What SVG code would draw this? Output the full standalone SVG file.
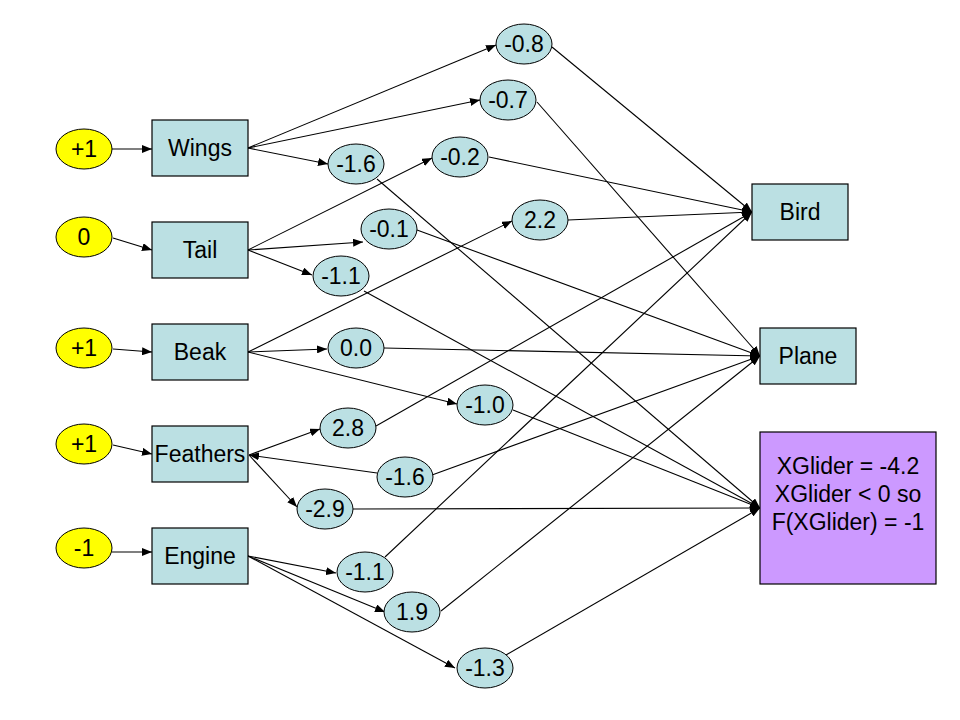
<svg xmlns="http://www.w3.org/2000/svg" width="960" height="720" viewBox="0 0 960 720">
<defs>
<style>
.in{fill:#FFFF00;stroke:#000;stroke-width:1}
.w{fill:#BBE0E3;stroke:#000;stroke-width:1}
.box{fill:#BBE0E3;stroke:#000;stroke-width:1.2}
.pur{fill:#CC99FF;stroke:#000;stroke-width:1.2}
text{font-family:"Liberation Sans",Arial,sans-serif;font-size:23px;fill:#000;text-anchor:middle}
.c line{stroke:#000;stroke-width:1.1;fill:none}
.a{marker-end:url(#ah)}
</style>
<marker id="ah" markerUnits="userSpaceOnUse" markerWidth="10" markerHeight="8" refX="10" refY="4" orient="auto">
<path d="M0,0 L10,4 L0,8 z" fill="#000"/>
</marker>
</defs>
<rect width="960" height="720" fill="#fff"/>
<g id="connectors" class="c">
<line class="a" x1="112" y1="149" x2="152" y2="149"/>
<line class="a" x1="113" y1="238" x2="152" y2="250"/>
<line class="a" x1="113" y1="349" x2="152" y2="352"/>
<line class="a" x1="113" y1="445" x2="152" y2="454"/>
<line class="a" x1="112" y1="552" x2="152" y2="552"/>
<line class="a" x1="248" y1="148" x2="496" y2="45"/>
<line class="a" x1="248" y1="148" x2="480" y2="100"/>
<line class="a" x1="248" y1="148" x2="328" y2="164"/>
<line class="a" x1="248" y1="250" x2="432" y2="158"/>
<line class="a" x1="248" y1="250" x2="363" y2="242"/>
<line class="a" x1="248" y1="250" x2="312" y2="275"/>
<line class="a" x1="248" y1="352" x2="512" y2="221"/>
<line class="a" x1="248" y1="352" x2="327" y2="349"/>
<line class="a" x1="248" y1="352" x2="457" y2="404"/>
<line class="a" x1="249" y1="455" x2="320" y2="429"/>
<line class="a" x1="249" y1="455" x2="297" y2="507"/>
<line class="a" x1="377" y1="473" x2="249" y2="455"/>
<line class="a" x1="248" y1="556" x2="336" y2="573"/>
<line class="a" x1="248" y1="556" x2="385" y2="612"/>
<line class="a" x1="248" y1="556" x2="455" y2="668"/>
<line class="a" x1="552" y1="47" x2="752" y2="212"/>
<line class="a" x1="489" y1="157" x2="752" y2="212"/>
<line class="a" x1="568" y1="220" x2="752" y2="212"/>
<line class="a" x1="376" y1="426" x2="752" y2="212"/>
<line class="a" x1="385" y1="557" x2="752" y2="212"/>
<line class="a" x1="537" y1="102" x2="760" y2="356"/>
<line class="a" x1="417" y1="230" x2="760" y2="356"/>
<line class="a" x1="384" y1="348" x2="760" y2="356"/>
<line class="a" x1="432" y1="475" x2="760" y2="356"/>
<line class="a" x1="441" y1="611" x2="760" y2="356"/>
<line class="a" x1="377" y1="179" x2="760" y2="508"/>
<line class="a" x1="364" y1="291" x2="760" y2="508"/>
<line class="a" x1="513" y1="410" x2="760" y2="508"/>
<line class="a" x1="353" y1="509" x2="760" y2="508"/>
<line class="a" x1="506" y1="655" x2="760" y2="508"/>
</g>
<g id="in-wings"><ellipse class="in" cx="84" cy="149" rx="28" ry="20"/><text x="84" y="157">+1</text></g>
<g id="in-tail"><ellipse class="in" cx="84" cy="237" rx="28" ry="20"/><text x="84" y="245">0</text></g>
<g id="in-beak"><ellipse class="in" cx="84" cy="348" rx="28" ry="20"/><text x="84" y="356">+1</text></g>
<g id="in-feathers"><ellipse class="in" cx="84" cy="444" rx="28" ry="20"/><text x="84" y="452">+1</text></g>
<g id="in-engine"><ellipse class="in" cx="84" cy="548" rx="28" ry="20"/><text x="84" y="556">-1</text></g>
<g id="wings"><rect class="box" x="152" y="120" width="96" height="56"/><text x="200" y="156">Wings</text></g>
<g id="tail"><rect class="box" x="152" y="222" width="96" height="56"/><text x="200" y="258">Tail</text></g>
<g id="beak"><rect class="box" x="152" y="324" width="96" height="56"/><text x="200" y="360">Beak</text></g>
<g id="feathers"><rect class="box" x="152" y="426" width="96" height="56"/><text x="200" y="462">Feathers</text></g>
<g id="engine"><rect class="box" x="152" y="528" width="96" height="56"/><text x="200" y="564">Engine</text></g>
<g id="w-wings-bird"><ellipse class="w" cx="524" cy="44" rx="28" ry="20"/><text x="524" y="52">-0.8</text></g>
<g id="w-wings-plane"><ellipse class="w" cx="508" cy="100" rx="28" ry="20"/><text x="508" y="108">-0.7</text></g>
<g id="w-wings-glider"><ellipse class="w" cx="356" cy="164" rx="28" ry="20"/><text x="356" y="172">-1.6</text></g>
<g id="w-tail-bird"><ellipse class="w" cx="460" cy="157" rx="28" ry="20"/><text x="460" y="165">-0.2</text></g>
<g id="w-tail-plane"><ellipse class="w" cx="389" cy="229" rx="28" ry="20"/><text x="389" y="237">-0.1</text></g>
<g id="w-tail-glider"><ellipse class="w" cx="341" cy="276" rx="28" ry="20"/><text x="341" y="284">-1.1</text></g>
<g id="w-beak-bird"><ellipse class="w" cx="540" cy="220" rx="28" ry="20"/><text x="540" y="228">2.2</text></g>
<g id="w-beak-plane"><ellipse class="w" cx="356" cy="348" rx="28" ry="20"/><text x="356" y="356">0.0</text></g>
<g id="w-beak-glider"><ellipse class="w" cx="485" cy="405" rx="28" ry="20"/><text x="485" y="413">-1.0</text></g>
<g id="w-feathers-bird"><ellipse class="w" cx="348" cy="428" rx="28" ry="20"/><text x="348" y="436">2.8</text></g>
<g id="w-feathers-plane"><ellipse class="w" cx="405" cy="477" rx="28" ry="20"/><text x="405" y="485">-1.6</text></g>
<g id="w-feathers-glider"><ellipse class="w" cx="325" cy="509" rx="28" ry="20"/><text x="325" y="517">-2.9</text></g>
<g id="w-engine-bird"><ellipse class="w" cx="365" cy="572" rx="28" ry="20"/><text x="365" y="580">-1.1</text></g>
<g id="w-engine-plane"><ellipse class="w" cx="412" cy="612" rx="28" ry="20"/><text x="412" y="620">1.9</text></g>
<g id="w-engine-glider"><ellipse class="w" cx="485" cy="668" rx="28" ry="20"/><text x="485" y="676">-1.3</text></g>
<g id="bird"><rect class="box" x="752" y="184" width="96" height="56"/><text x="800" y="220">Bird</text></g>
<g id="plane"><rect class="box" x="760" y="328" width="96" height="56"/><text x="808" y="364">Plane</text></g>
<g id="glider"><rect class="pur" x="760" y="432" width="176" height="152"/>
<text x="848" y="474">XGlider = -4.2</text>
<text x="848" y="502">XGlider &lt; 0 so</text>
<text x="848" y="530">F(XGlider) = -1</text></g>
</svg>
